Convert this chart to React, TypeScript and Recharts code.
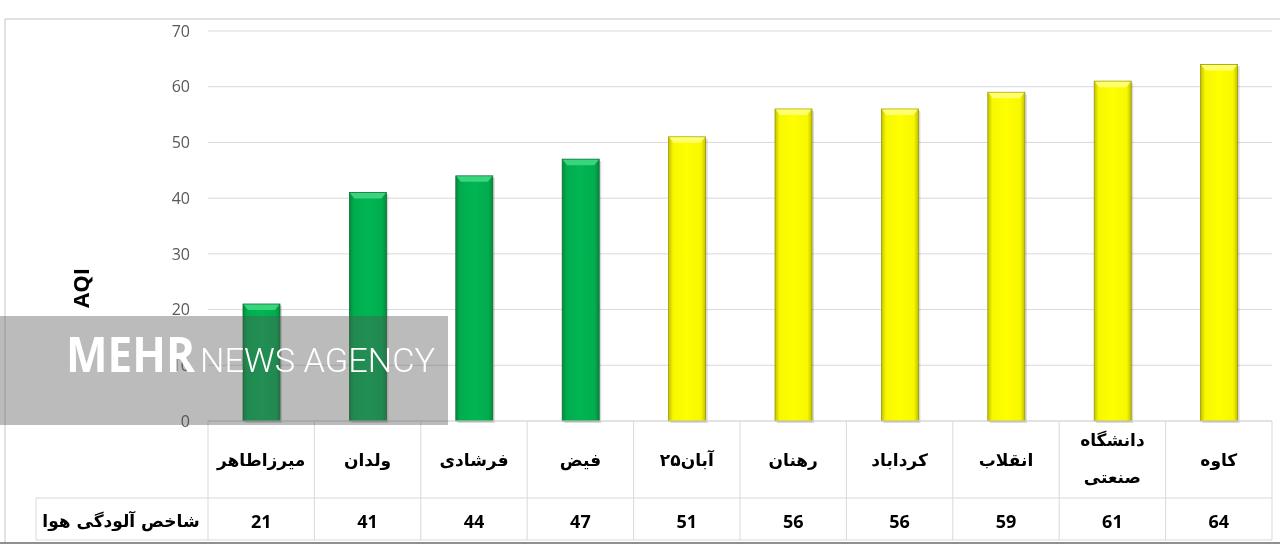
import { BarChart, Bar, XAxis, YAxis, CartesianGrid, Cell } from 'recharts';

const stations = ['میرزاطاهر', 'ولدان', 'فرشادی', 'فیض', '۲۵آبان', 'رهنان', 'کرداباد', 'انقلاب', 'دانشگاه صنعتی', 'کاوه'];
const aqiValues = [21, 41, 44, 47, 51, 56, 56, 59, 61, 64];
const yTicks = [0, 10, 20, 30, 40, 50, 60, 70];
const rowLabel = 'شاخص آلودگی هوا';
const axisTitle = 'AQI';
const markBold = 'MEHR';
const markLight = 'NEWS AGENCY';

const data = stations.map((name, i) => ({ name, aqi: aqiValues[i] }));

const W = 1280;
const H = 552;
const AXIS_W = 208;
const RIGHT = 8;
const TABLE_H = 131;
const CELL_W = (W - AXIS_W - RIGHT) / stations.length;
const GRID = '#d9d9d9';
const FA = '"DejaVu Sans", sans-serif';
const NUM = '"Open Sans", sans-serif';

// green for "good" AQI, yellow for "moderate"
const colorFor = (v: number) => (v <= 50 ? 'green' : 'yellow');

function BevelBar(props: any) {
  const { x, y, width, height, payload } = props;
  if (!height || height <= 0) return null;
  const c = colorFor(payload.aqi);
  const top = c === 'green' ? '#3fd882' : '#ffff7a';
  const edge = c === 'green' ? '#0a6e33' : '#9a9a00';
  const b = 5;
  return (
    <g>
      <rect x={x + 2} y={y + 2} width={width} height={height} fill="#000" opacity={0.15} />
      <rect x={x} y={y} width={width} height={height} fill={`url(#grad-${c})`} stroke={edge} strokeWidth={0.8} />
      <polygon
        points={`${x + 0.5},${y + 0.5} ${x + width - 0.5},${y + 0.5} ${x + width - b},${y + b + 1} ${x + b},${y + b + 1}`}
        fill={top}
        opacity={0.9}
      />
    </g>
  );
}

function TableTick(props: any) {
  const { x, y, payload } = props;
  const i = stations.indexOf(payload.value);
  const half = CELL_W / 2;
  const lines = String(payload.value).split(' ');
  return (
    <g>
      {i === 0 && <line x1={x - half} y1={y} x2={x - half} y2={y + 119} stroke={GRID} />}
      <line x1={x + half} y1={y} x2={x + half} y2={y + 119} stroke={GRID} />
      <line x1={x - half} y1={y + 77} x2={x + half} y2={y + 77} stroke={GRID} />
      <line x1={x - half} y1={y + 119} x2={x + half} y2={y + 119} stroke={GRID} />
      {lines.length === 1 ? (
        <text x={x} y={y + 45} textAnchor="middle" fontFamily={FA} fontWeight="bold" fontSize={17} fill="#000">
          {lines[0]}
        </text>
      ) : (
        lines.map((l, k) => (
          <text key={k} x={x} y={y + 25 + k * 37} textAnchor="middle" fontFamily={FA} fontWeight="bold" fontSize={17} fill="#000">
            {l}
          </text>
        ))
      )}
      <text x={x} y={y + 107} textAnchor="middle" fontFamily={NUM} fontWeight="bold" fontSize={18} fill="#000">
        {aqiValues[i]}
      </text>
    </g>
  );
}

function AxisTitle(props: any) {
  const { viewBox } = props;
  const cx = viewBox.x + 80;
  const cy = viewBox.y + viewBox.height / 2 + 62;
  return (
    <text x={cx} y={cy} transform={`rotate(-90 ${cx} ${cy})`} textAnchor="middle" dominantBaseline="central"
      fontFamily={NUM} fontWeight="bold" fontSize={22} fill="#000">
      {axisTitle}
    </text>
  );
}

export default function App() {
  return (
    <div style={{ position: 'relative', width: W, height: H, background: '#fff' }}>
      <style>{'body{margin:0}'}</style>
      <BarChart width={W} height={H} data={data} margin={{ top: 31, right: RIGHT, bottom: 0, left: 0 }} barSize={37}>
        <defs>
          <linearGradient id="grad-green" x1="0" y1="0" x2="1" y2="0">
            <stop offset="0" stopColor="#078a3c" />
            <stop offset="0.12" stopColor="#00ad4e" />
            <stop offset="0.5" stopColor="#02b553" />
            <stop offset="0.88" stopColor="#00ad4e" />
            <stop offset="1" stopColor="#078a3c" />
          </linearGradient>
          <linearGradient id="grad-yellow" x1="0" y1="0" x2="1" y2="0">
            <stop offset="0" stopColor="#c2c200" />
            <stop offset="0.12" stopColor="#f7f700" />
            <stop offset="0.5" stopColor="#ffff00" />
            <stop offset="0.88" stopColor="#f7f700" />
            <stop offset="1" stopColor="#c2c200" />
          </linearGradient>
        </defs>
        <CartesianGrid vertical={false} stroke={GRID} />
        <XAxis
          dataKey="name"
          height={TABLE_H}
          interval={0}
          axisLine={{ stroke: GRID }}
          tickLine={false}
          tickSize={0}
          tickMargin={0}
          tick={<TableTick />}
        />
        <YAxis
          width={AXIS_W}
          domain={[0, 70]}
          ticks={yTicks}
          axisLine={false}
          tickLine={false}
          tickSize={6}
          tickMargin={12}
          tick={{ fill: '#595959', fontSize: 16, fontFamily: NUM }}
          label={<AxisTitle />}
        />
        <Bar dataKey="aqi" isAnimationActive={false} shape={<BevelBar />}>
          {data.map((d, i) => (
            <Cell key={i} fill={colorFor(d.aqi)} />
          ))}
        </Bar>
      </BarChart>
      <svg width={W} height={H} style={{ position: 'absolute', left: 0, top: 0, pointerEvents: 'none' }}>
        <line x1={5} y1={19} x2={W} y2={19} stroke={GRID} strokeWidth={1.5} />
        <line x1={5} y1={19} x2={5} y2={543} stroke={GRID} strokeWidth={1.5} />
        <line x1={36} y1={498} x2={36} y2={540} stroke={GRID} />
        <line x1={36} y1={498} x2={AXIS_W} y2={498} stroke={GRID} />
        <line x1={36} y1={540} x2={AXIS_W} y2={540} stroke={GRID} />
        <line x1={0} y1={543} x2={W} y2={543} stroke="#6b6b6b" strokeWidth={1.5} />
        <text x={121} y={527} textAnchor="middle" fontFamily={FA} fontWeight="bold" fontSize={17} fill="#000">
          {rowLabel}
        </text>
        <rect x={0} y={316} width={448} height={109} fill="#d4d4d4" style={{ mixBlendMode: 'multiply' }} />
        <rect x={0} y={316} width={448} height={109} fill="#7a7a7a" opacity={0.27} />
        <text x={66} y={372} fontFamily={NUM} fontWeight="bold" fontSize={48} fill="#fff" textLength={129} lengthAdjust="spacingAndGlyphs">
          {markBold}
        </text>
        <text x={200} y={372} fontFamily="Roboto, sans-serif" fontWeight={300} fontSize={34} fill="#fff" textLength={235} lengthAdjust="spacingAndGlyphs">
          {markLight}
        </text>
      </svg>
    </div>
  );
}
